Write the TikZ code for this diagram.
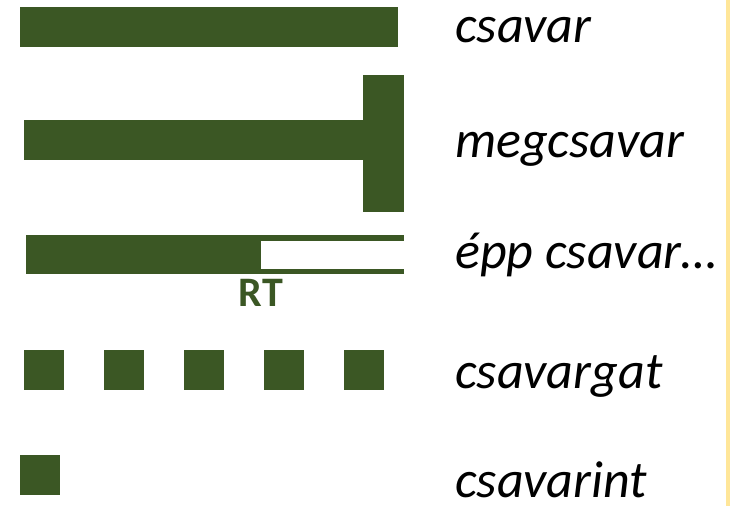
\documentclass[tikz,border=0pt]{standalone}
\usepackage{fontspec}
\setmainfont{Carlito}
\definecolor{leaf}{RGB}{59,87,36}
\definecolor{rule}{RGB}{255,230,153}
\tikzset{
  bar/.style={fill=leaf, draw=none},
  verb/.style={anchor=base west, inner sep=0pt, font=\fontsize{52}{60}\selectfont\itshape},
  tag/.style={inner sep=0pt, text=leaf, font=\fontsize{42}{48}\selectfont\bfseries}
}
\begin{document}
\begin{tikzpicture}[x=1pt, y=-1pt]
  \useasboundingbox (0,0) rectangle (730,506);
  % continuous action
  \fill[bar] (20,7) rectangle (398,47);
  % completed action: bar ending in a stop
  \fill[bar] (24,120) rectangle (364,160);
  \fill[bar] (363,75) rectangle (404,212);
  % action in progress at reference time
  \fill[bar] (26,235) rectangle (404,274);
  \fill[white] (261,241) rectangle (404,269);
  \node[tag, anchor=north] (rt) at (261,279) {RT};
  % repeated action
  \foreach \i in {0,...,4}
    \fill[bar] ({24+80*\i},350) rectangle ++(40,40);
  % momentary action
  \fill[bar] (20,455) rectangle (60,495);
  % labels
  \node[verb] (v1) at (455,42) {csavar};
  \node[verb] (v2) at (455,157) {megcsavar};
  \node[verb] (v3) at (455,268) {épp csavar…};
  \node[verb] (v4) at (455,388) {csavargat};
  \node[verb] (v5) at (455,497) {csavarint};
  % right-hand margin rule
  \fill[rule] (726,0) rectangle (730,506);
\end{tikzpicture}
\end{document}
